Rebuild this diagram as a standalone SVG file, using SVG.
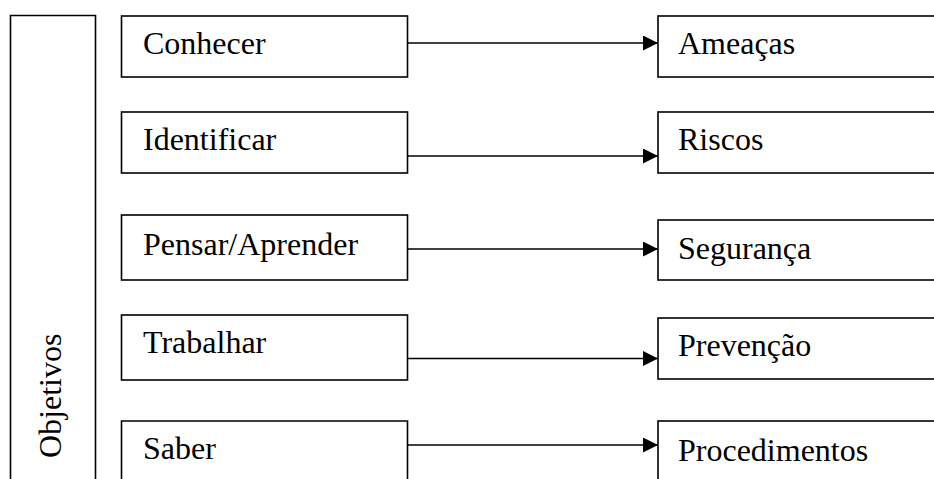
<svg xmlns="http://www.w3.org/2000/svg" width="934" height="479" viewBox="0 0 934 479">
  <style>
    .box { fill: #fff; stroke: #000; stroke-width: 1.6; }
    .lbl { font-family: "Liberation Serif", "Times New Roman", serif; font-size: 32px; fill: #000; }
    .link { stroke: #000; stroke-width: 1.6; fill: none; }
  </style>
  <defs>
    <marker id="arrow" markerUnits="userSpaceOnUse" markerWidth="16" markerHeight="16" refX="15" refY="7.5" orient="auto">
      <path d="M0,0 L15,7.5 L0,15 Z" fill="#000"/>
    </marker>
  </defs>

  <rect width="934" height="479" fill="#fff"/>

  <!-- vertical side panel, open at the bottom -->
  <g id="objetivos">
    <path class="box" d="M10.5,481 L10.5,15.5 L95.5,15.5 L95.5,481"/>
    <text class="lbl" transform="translate(61,458) rotate(-90)">Objetivos</text>
  </g>

  <!-- actions (left column) -->
  <g id="conhecer">
    <rect class="box" x="121.5" y="16" width="286" height="61"/>
    <text class="lbl" x="143" y="54">Conhecer</text>
  </g>
  <g id="identificar">
    <rect class="box" x="121.5" y="112" width="286" height="61"/>
    <text class="lbl" x="143" y="150">Identificar</text>
  </g>
  <g id="pensar">
    <rect class="box" x="121.5" y="215" width="286" height="65"/>
    <text class="lbl" x="143" y="255">Pensar/Aprender</text>
  </g>
  <g id="trabalhar">
    <rect class="box" x="121.5" y="315" width="286" height="65"/>
    <text class="lbl" x="143" y="353">Trabalhar</text>
  </g>
  <g id="saber">
    <path class="box" d="M121.5,481 L121.5,421 L407.5,421 L407.5,481"/>
    <text class="lbl" x="143" y="459">Saber</text>
  </g>

  <!-- topics (right column, running past the edge) -->
  <g id="ameacas">
    <rect class="box" x="658" y="16" width="290" height="61"/>
    <text class="lbl" x="678" y="54">Ameaças</text>
  </g>
  <g id="riscos">
    <rect class="box" x="658" y="112" width="290" height="61"/>
    <text class="lbl" x="678" y="150">Riscos</text>
  </g>
  <g id="seguranca">
    <rect class="box" x="658" y="220" width="290" height="60"/>
    <text class="lbl" x="678" y="259">Segurança</text>
  </g>
  <g id="prevencao">
    <rect class="box" x="658" y="318" width="290" height="61"/>
    <text class="lbl" x="678" y="356">Prevenção</text>
  </g>
  <g id="procedimentos">
    <rect class="box" x="658" y="421" width="290" height="70"/>
    <text class="lbl" x="678" y="461">Procedimentos</text>
  </g>

  <!-- connectors -->
  <g id="connectors">
    <line class="link" x1="408" y1="43" x2="658" y2="43" marker-end="url(#arrow)"/>
    <line class="link" x1="408" y1="156" x2="658" y2="156" marker-end="url(#arrow)"/>
    <line class="link" x1="408" y1="249" x2="658" y2="249" marker-end="url(#arrow)"/>
    <line class="link" x1="408" y1="358.5" x2="658" y2="358.5" marker-end="url(#arrow)"/>
    <line class="link" x1="408" y1="445" x2="658" y2="445" marker-end="url(#arrow)"/>
  </g>
</svg>
